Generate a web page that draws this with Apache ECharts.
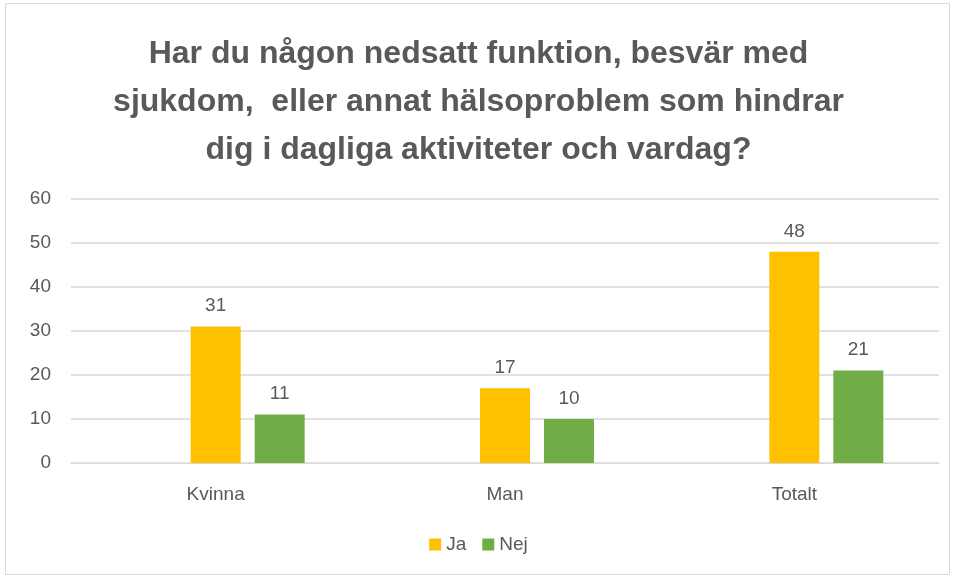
<!DOCTYPE html>
<html>
<head>
<meta charset="utf-8">
<script src="https://cdn.jsdelivr.net/npm/echarts@6/dist/echarts.min.js"></script>
<style>
html, body { margin: 0; padding: 0; background: #fff; }
#main { width: 957px; height: 578px; }
</style>
</head>
<body>
<div id="main"></div>
<script>
// data
var categories = ['Kvinna', 'Man', 'Totalt'];
var ja = [31, 17, 48];
var nej = [11, 10, 21];
// the original has an empty first series that shifts the bars to the right
var blank = [null, null, null];
var titleText = 'Har du någon nedsatt funktion, besvär med\nsjukdom,  eller annat hälsoproblem som hindrar\ndig i dagliga aktiviteter och vardag?';

var textColor = '#595959';
var labelFont = '"Liberation Sans", Arial, sans-serif';

var chart = echarts.init(document.getElementById('main'));
chart.setOption({
    animation: false,
    backgroundColor: '#fff',
    graphic: [{
        type: 'rect',
        shape: { x: 5.5, y: 3.5, width: 944, height: 571 },
        style: { fill: 'none', stroke: '#d9d9d9', lineWidth: 1 },
        silent: true
    }],
    title: {
        text: titleText,
        left: 'center',
        top: 25,
        textStyle: {
            color: textColor,
            fontFamily: labelFont,
            fontWeight: 'bold',
            fontSize: 32,
            lineHeight: 48
        }
    },
    legend: {
        data: ['Ja', 'Nej'],
        bottom: 19,
        left: 'center',
        itemWidth: 12,
        itemHeight: 12,
        itemGap: 16,
        icon: 'rect',
        textStyle: { color: textColor, fontSize: 19, fontFamily: labelFont }
    },
    grid: {
        left: 71,
        right: 18,
        top: 199,
        bottom: 115
    },
    xAxis: {
        type: 'category',
        data: categories,
        axisLine: { lineStyle: { color: '#d9d9d9', width: 1 } },
        axisTick: { show: false },
        axisLabel: { color: textColor, fontSize: 19, fontFamily: labelFont, margin: 22 }
    },
    yAxis: {
        type: 'value',
        min: 0,
        max: 60,
        interval: 10,
        axisLine: { show: false },
        axisTick: { show: false },
        axisLabel: { color: textColor, fontSize: 19, fontFamily: labelFont, margin: 20 },
        splitLine: { lineStyle: { color: '#d9d9d9', width: 1.5 } }
    },
    series: [{
        name: '',
        type: 'bar',
        data: blank,
        barWidth: 50,
        barGap: '28%'
    }, {
        name: 'Ja',
        type: 'bar',
        data: ja,
        barWidth: 50,
        barGap: '28%',
        itemStyle: { color: '#FFC000' },
        label: { show: true, position: 'top', distance: 11, color: textColor, fontSize: 19, fontFamily: labelFont }
    }, {
        name: 'Nej',
        type: 'bar',
        data: nej,
        barWidth: 50,
        barGap: '28%',
        itemStyle: { color: '#70AD47' },
        label: { show: true, position: 'top', distance: 11, color: textColor, fontSize: 19, fontFamily: labelFont }
    }]
});
</script>
</body>
</html>
